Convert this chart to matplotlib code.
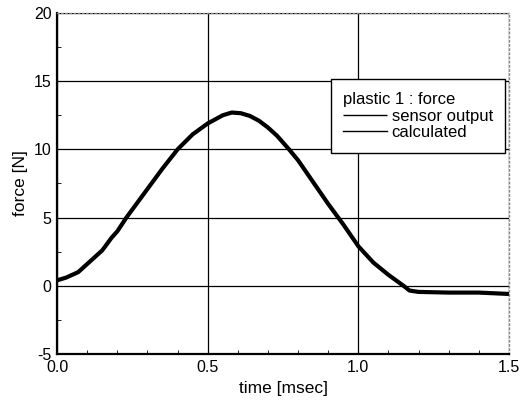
import numpy as np
import matplotlib.pyplot as plt
from matplotlib.ticker import MultipleLocator

plt.rcParams['font.family'] = ['Liberation Sans', 'DejaVu Sans']
plt.rcParams['axes.unicode_minus'] = False

# Data
time_ms = [0.0, 0.03, 0.07, 0.11, 0.15, 0.18, 0.2, 0.23, 0.27, 0.3, 0.35, 0.4,
           0.45, 0.5, 0.55, 0.58, 0.61, 0.64, 0.67, 0.7, 0.73, 0.77, 0.8, 0.85,
           0.9, 0.95, 1.0, 1.05, 1.1, 1.15, 1.17, 1.2, 1.3, 1.4, 1.5]
sensor_output = [0.4, 0.6, 1.0, 1.8, 2.6, 3.5, 4.0, 5.0, 6.2, 7.1, 8.6, 10.0,
                 11.1, 11.9, 12.5, 12.7, 12.65, 12.45, 12.1, 11.6, 11.0, 10.0, 9.2, 7.6,
                 6.0, 4.5, 2.9, 1.7, 0.8, 0.0, -0.35, -0.45, -0.5, -0.5, -0.6]
calculated = [0.4, 0.6, 1.0, 1.8, 2.6, 3.5, 4.0, 5.0, 6.2, 7.1, 8.6, 10.0,
              11.1, 11.9, 12.5, 12.7, 12.65, 12.45, 12.1, 11.6, 11.0, 10.0, 9.2, 7.6,
              6.0, 4.5, 2.9, 1.7, 0.8, 0.0, -0.35, -0.45, -0.5, -0.5, -0.6]

xticks = [0.0, 0.5, 1.0, 1.5]
yticks = [-5, 0, 5, 10, 15, 20]

fig = plt.figure(figsize=(5.29, 4.05), dpi=100)
ax = fig.add_axes([0.108, 0.126, 0.854, 0.842])

ax.plot(time_ms, sensor_output, color='black', lw=3.0, solid_capstyle='butt',
        solid_joinstyle='round', label='sensor output', zorder=3)
ax.plot(time_ms, calculated, color='black', lw=1.0, label='calculated', zorder=4)

ax.set_xlim(0, 1.5)
ax.set_ylim(-5, 20)
ax.set_xticks(xticks)
ax.set_xticklabels(['%.1f' % t for t in xticks])
ax.set_yticks(yticks)
ax.xaxis.set_minor_locator(MultipleLocator(0.1))
ax.yaxis.set_minor_locator(MultipleLocator(2.5))
ax.tick_params(which='both', direction='in', labelsize=11.5, color='black')
ax.tick_params(which='major', length=0, pad=4)
ax.tick_params(which='minor', length=3)
ax.grid(True, which='major', color='black', lw=0.9)

ax.spines['left'].set_linewidth(1.6)
ax.spines['bottom'].set_linewidth(1.6)
for s in ['top', 'right']:
    ax.spines[s].set_linestyle((0, (1, 2)))
    ax.spines[s].set_color('#888888')
    ax.spines[s].set_linewidth(1.0)

ax.set_xlabel('time [msec]', fontsize=12.5, labelpad=5)
ax.set_ylabel('force [N]', fontsize=12.5, labelpad=4)

leg = ax.legend(title='plastic 1 : force', loc='upper left',
                bbox_to_anchor=(0.606, 0.805), fontsize=12, title_fontsize=12,
                fancybox=False, framealpha=1, edgecolor='black',
                handlelength=2.6, handletextpad=0.3, borderpad=0.75,
                labelspacing=0.1, borderaxespad=0, alignment='left')
leg.get_frame().set_linewidth(1.0)
for h in leg.get_lines():
    h.set_linewidth(1.0)

fig.savefig('out.png', dpi=100)
